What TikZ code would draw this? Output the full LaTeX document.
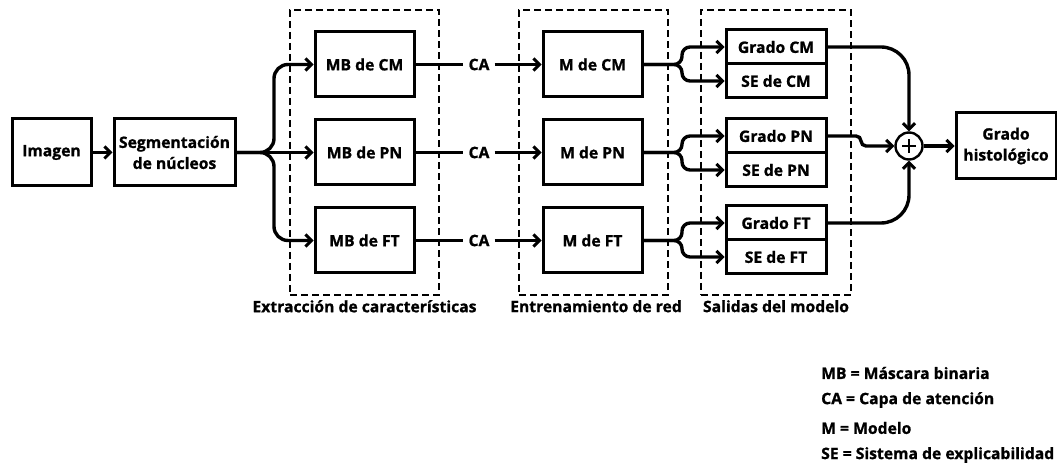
\documentclass[tikz,border=0pt]{standalone}
\usepackage{fontspec}
\setmainfont{Open Sans}[BoldFeatures={FakeBold=1}]
\usetikzlibrary{arrows.meta}
\begin{document}
\begin{tikzpicture}[x=1pt,y=-1pt,
  font=\fontsize{15.7}{21}\selectfont\bfseries,
  box/.style={draw,line width=3pt,minimum width=#1,inner sep=0pt,align=center},
  dbox/.style={draw,line width=2.2pt,dash pattern=on 7pt off 4pt,inner sep=0pt},
  conn/.style={line width=3.4pt},
  arr/.style={conn,-{Straight Barb[length=6pt,width=12pt,line width=3pt]}},
  lbl/.style={inner sep=1pt}
]
\useasboundingbox (0,0) rectangle (1057,470);
% dashed groups
\node[dbox,minimum width=149pt,minimum height=285pt] (g1) at (364.5,152.5) {};
\node[dbox,minimum width=149pt,minimum height=285pt] (g2) at (593.5,152.5) {};
\node[dbox,minimum width=150pt,minimum height=285pt] (g3) at (776,152.5) {};
\node[lbl,anchor=north] (l1) at (364.5,299) {Extracción de características};
\node[lbl,anchor=north] (l2) at (596,299) {Entrenamiento de red};
\node[lbl,anchor=north] (l3) at (776,299) {Salidas del modelo};
% boxes
\node[box=79pt,minimum height=67pt] (img) at (51.5,152.5) {Imagen};
\node[box=121pt,minimum height=67pt] (seg) at (174.5,152.5) {Segmentación\\de núcleos};
\foreach \n/\t/\y in {cm/CM/64.5,pn/PN/152.5,ft/FT/240.5}{
  \node[box=99pt,minimum height=65pt,fill=white] (mb\n) at (364.5,\y) {MB de \t};
  \node[box=99pt,minimum height=65pt,fill=white] (m\n) at (592.5,\y) {M de \t};
  \node[inner xsep=5pt,inner ysep=1pt,fill=white] (ca\n) at (479,\y) {CA};
}
\node[box=100pt,minimum height=34pt,fill=white] (gcm) at (776,47) {Grado CM};
\node[box=100pt,minimum height=34pt,fill=white] (scm) at (776,81) {SE de CM};
\node[box=100pt,minimum height=34pt,fill=white] (gpn) at (776,136) {Grado PN};
\node[box=100pt,minimum height=34pt,fill=white] (spn) at (776,170) {SE de PN};
\node[box=100pt,minimum height=34pt,fill=white] (gft) at (776,223) {Grado FT};
\node[box=100pt,minimum height=34pt,fill=white] (sft) at (776,257) {SE de FT};
\node[draw,circle,line width=2.4pt,minimum size=27pt,inner sep=0pt] (plus) at (909,146) {};
\draw[line width=2pt] ([xshift=-7pt]plus.center) -- ([xshift=7pt]plus.center)
  ([yshift=-7pt]plus.center) -- ([yshift=7pt]plus.center);
\node[box=100pt,minimum height=66pt] (hist) at (1006,146) {Grado\\histológico};
% connectors
\draw[arr] (img) -- (seg);
\draw[arr,rounded corners=14pt] (seg.east) -- (274,152.5) -- (274,64.5) -- (mbcm.west);
\draw[arr] (seg.east) -- (mbpn.west);
\draw[arr,rounded corners=14pt] (seg.east) -- (274,152.5) -- (274,240.5) -- (mbft.west);
\foreach \n in {cm,pn,ft}{
  \draw[conn] (mb\n.east) -- (ca\n.west);
  \draw[arr] (ca\n.east) -- (m\n.west);
}
\draw[arr,rounded corners=8pt] (mcm.east) -- (682,64.5) -- (682,47) -- (gcm.west);
\draw[arr,rounded corners=8pt] (mcm.east) -- (682,64.5) -- (682,81) -- (scm.west);
\draw[arr,rounded corners=8pt] (mpn.east) -- (682,152.5) -- (682,136) -- (gpn.west);
\draw[arr,rounded corners=8pt] (mpn.east) -- (682,152.5) -- (682,170) -- (spn.west);
\draw[arr,rounded corners=8pt] (mft.east) -- (682,240.5) -- (682,223) -- (gft.west);
\draw[arr,rounded corners=8pt] (mft.east) -- (682,240.5) -- (682,257) -- (sft.west);
\draw[arr,rounded corners=28pt] (gcm.east) -- (909,47) -- (plus.north);
\draw[arr,rounded corners=5pt] (gpn.east) -- (861,136) -- (861,146) -- (plus.west);
\draw[arr,rounded corners=28pt] (gft.east) -- (909,223) -- (plus.south);
\draw[arr] (plus.east) -- (hist.west);
% legend
\node[lbl,anchor=west] (k1) at (820,373) {MB = Máscara binaria};
\node[lbl,anchor=west] (k2) at (820,400) {CA = Capa de atención};
\node[lbl,anchor=west] (k3) at (820,428) {M = Modelo};
\node[lbl,anchor=west] (k4) at (820,455) {SE = Sistema de explicabilidad};
\end{tikzpicture}
\end{document}
